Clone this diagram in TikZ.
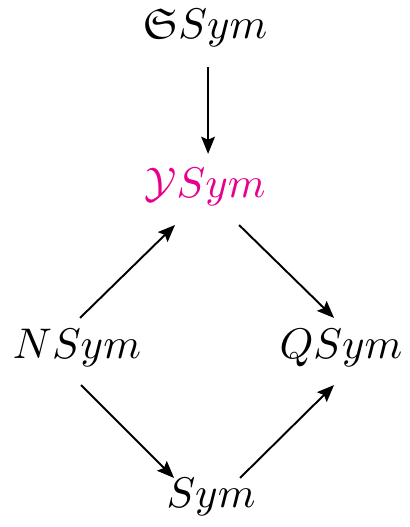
\documentclass[tikz,border=0pt]{standalone}
\usepackage{amsmath,amssymb}
\usepackage{xcolor}
\usetikzlibrary{arrows.meta}
\definecolor{ymag}{RGB}{230,0,140}

\begin{document}
\begin{tikzpicture}[  alg/.style={inner sep=0pt},  arr/.style={thick, line width=0.45pt, -{Stealth[length=4pt,width=3.2pt,inset=0.7pt]}}]
\useasboundingbox (0,0) rectangle (3.354,4.321);
%%%%%%%%%%%%%%%%%%%%%%%%%%%%%%%%%%%%%%%%%%%%%%%%%%
% nodes
%%%%%%%%%%%%%%%%%%%%%%%%%%%%%%%%%%%%%%%%%%%%%%%%%%
  \node[alg] (s) at (1.681,4.092) {$\mathfrak{S}Sym$};
  \node[alg, text=ymag] (y) at (1.681,2.788) {$\mathcal{Y}Sym$};
  \node[alg] (n) at (0.631,1.468) {$NSym$};
  \node[alg] (q) at (2.796,1.468) {$QSym$};
  \node[alg] (sym) at (1.730,0.246) {$Sym$};
%%%%%%%%%%%%%%%%%%%%%%%%%%%%%%%%%%%%%%%%%%%%%%%%%%
% arrows
%%%%%%%%%%%%%%%%%%%%%%%%%%%%%%%%%%%%%%%%%%%%%%%%%%
  \draw[arr] ([shift={(0.025,-0.320)}]s.center) -- ([shift={(0.025,0.271)}]y.center);
  \draw[arr] ([shift={(0.025,0.246)}]n.center) -- ([shift={(-0.246,-0.312)}]y.center);
  \draw[arr] ([shift={(0.279,-0.312)}]y.center) -- ([shift={(-0.057,0.246)}]q.center);
  \draw[arr] ([shift={(0.033,-0.304)}]n.center) -- ([shift={(-0.303,0.156)}]sym.center);
  \draw[arr] ([shift={(0.238,0.156)}]sym.center) -- ([shift={(-0.057,-0.304)}]q.center);
\end{tikzpicture}
\end{document}
